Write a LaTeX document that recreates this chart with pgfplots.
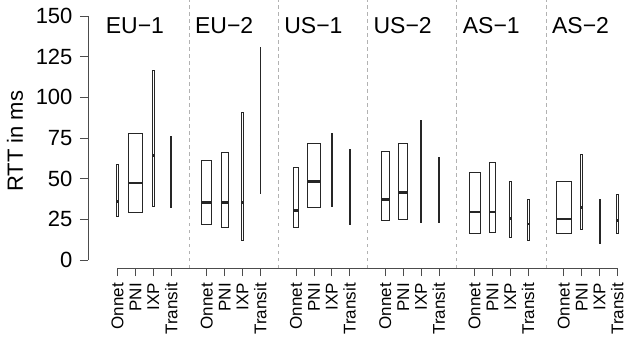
\documentclass[border=0pt]{standalone}
\usepackage{fontspec}
\setmainfont{Liberation Sans}
\usepackage{pgfplots}
\pgfplotsset{compat=1.18}
\usepgfplotslibrary{statistics}

% draw position, lower quartile, median, upper quartile, box width
\newcommand{\bx}[5]{\addplot[draw=black!85, line width=0.8pt, fill=none,
  boxplot/draw direction=y,
  boxplot/every median/.style={line width=2.8pt},
  boxplot/every whisker/.style={draw=none},
  boxplot prepared={draw position=#1, lower quartile=#2, median=#3,
    upper quartile=#4, lower whisker=#2, upper whisker=#4, box extend=#5}]
  coordinates {};}

\begin{document}
\begin{tikzpicture}
\begin{axis}[
  at={(0,0)}, anchor=south west, scale only axis,
  width=536pt, height=268pt,
  xmin=-0.66, xmax=29.37, ymin=-4.9, ymax=159.8,
  axis x line*=bottom, axis y line*=left,
  axis line style={draw=none},
  clip=false,
  tick align=outside, major tick length=8pt,
  tick style={black!70, line width=0.8pt},
  xtick={1,2,3,4,6,7,8,9,11,12,13,14,16,17,18,19,21,22,23,24,26,27,28,29},
  xticklabels={Onnet,PNI,IXP,Transit,Onnet,PNI,IXP,Transit,Onnet,PNI,IXP,Transit,
               Onnet,PNI,IXP,Transit,Onnet,PNI,IXP,Transit,Onnet,PNI,IXP,Transit},
  x tick label style={yshift=-6pt, rotate=90, anchor=east, inner sep=1pt,
     font=\fontsize{17}{17}\selectfont},
  ytick={0,25,50,75,100,125,150},
  y tick label style={font=\fontsize{22}{22}\selectfont, xshift=-4pt},
  /pgf/number format/assume math mode=true,
  ylabel={RTT in ms},
  every axis y label/.style={at={(axis cs:-0.66,73)}, xshift=-73pt, rotate=90, anchor=center,
     font=\fontsize{22}{22}\selectfont},
]
% group separators
\foreach \s in {5,10,15,20,25}{
  \edef\tmp{\noexpand\draw[gray!60, line width=0.8pt, dash pattern=on 3.5pt off 3.5pt]
    (axis cs:\s,-4.9) -- (axis cs:\s,159.8);}\tmp
}
% R-style axis lines
\draw[black!70, line width=0.8pt] (axis cs:-0.66,0) -- (axis cs:-0.66,150);
\draw[black!70, line width=0.8pt] (axis cs:1,-4.9) -- (axis cs:29,-4.9);
% group titles
\foreach \t/\p in {EU−1/0.33, EU−2/5.33, US−1/10.33, US−2/15.33, AS−1/20.33, AS−2/25.33}{
  \edef\tmp{\noexpand\node[anchor=base west, inner sep=0pt, font=\noexpand\fontsize{23}{23}\noexpand\selectfont]
    at (axis cs:\p,139.3) {\t};}\tmp
}
% EU-1
\bx{1}{27}{36}{59}{0.13}
\bx{2}{29.5}{47.3}{77.9}{0.78}
\bx{3}{33}{64.3}{116.6}{0.13}
\bx{4}{32.2}{50}{75.8}{0.06}
% EU-2
\bx{6}{22.1}{35.5}{61}{0.56}
\bx{7}{20.1}{35.5}{66}{0.39}
\bx{8}{12.3}{35.5}{90.8}{0.08}
\bx{9}{41}{70}{130.5}{0.05}
% US-1
\bx{11}{20.1}{30.3}{57}{0.28}
\bx{12}{32.2}{48.1}{71.9}{0.77}
\bx{13}{33}{50}{77.9}{0.05}
\bx{14}{22.1}{40}{68}{0.05}
% US-2
\bx{16}{24.2}{37.3}{67}{0.49}
\bx{17}{25.2}{41.4}{71.9}{0.5}
\bx{18}{23.2}{45}{85.9}{0.05}
\bx{19}{23.2}{40}{63.1}{0.05}
% AS-1
\bx{21}{16.2}{29.5}{54.1}{0.62}
\bx{22}{17.2}{29.5}{60}{0.3}
\bx{23}{14.1}{25.6}{48.1}{0.1}
\bx{24}{12.3}{22.1}{37.1}{0.13}
% AS-2
\bx{26}{16.2}{25.2}{48.1}{0.84}
\bx{27}{19.1}{32.2}{65}{0.1}
\bx{28}{10.2}{22}{37.1}{0.05}
\bx{29}{16.2}{24.2}{40.1}{0.13}
\end{axis}
\pgfresetboundingbox
\useasboundingbox (-88pt,-75pt) rectangle (536pt,268pt);
\end{tikzpicture}
\end{document}
